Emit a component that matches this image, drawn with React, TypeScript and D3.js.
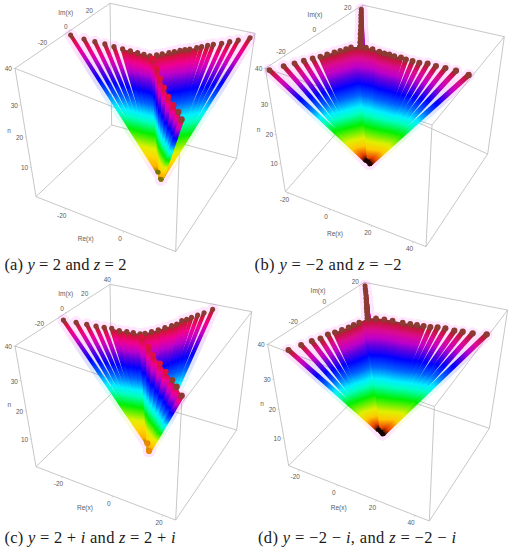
import React from 'react';
import * as d3 from 'd3';

// values at the top layer n = 40, in drawing order (far rays first)
const aRightRe = [14.3, 12.1, 10.5, 9.0, 7.3, 6.2, 5.1, 4.2, 2.9, 1.9, 0.9, -0.1, -1.1, -2.4, -3.45];
const aRightIm = [35.3, 30.9, 27.7, 24.6, 21.9, 19.9, 17.5, 15.6, 13.0, 11.4, 9.8, 7.5, 5.5, 3.0, 0.9];
const aLeftRe = [-28.5, -24.4, -21.2, -18.3, -15.5, -12.9, -10.6, -8.5, -6.6, -4.8];
const aLeftIm = [-3.85, -3.8, -3.3, -2.7, -2.65, -2.4, -2.1, -1.7, -1.5, -1.4];
const aThirdRe = [-3.6, -0.2, 3.0, 6.1, 9.4, 12.6, 15.4, 18.0];
const aThirdIm = [-2.5, -9.1, -15.8, -21.6, -27.6, -32.7, -36.6, -41.6];

const bSpikeRe = [-16, -15, -14, -12.7, -11.5, -10.05, -8.5, -7.1, -5.5, -4.1, -2.5];
const bSpikeIm = [21.3, 19.7, 17.9, 15.9, 14, 11.6, 9.1, 6.7, 4.2, 1.8, -0.75];
const bLeftRe = [-2.5, -5.3, -6.3, -7.6, -8.95, -10.6, -12.0, -13.9, -16.0, -18.1, -20.7, -23.95];
const bLeftIm = [-0.75, -2.6, -4.45, -6.4, -8.3, -10.7, -13.2, -15.5, -18.3, -21.4, -24.8, -29.5];
const bRightRe = [-2.5, -0.2, 2.5, 5.7, 8.0, 10.0, 12.3, 15.0, 17.4, 20.2, 23.1, 26.1, 29.8, 33.7, 38.2, 44];
const bRightIm = [-0.75, -0.3, 0, -0.4, -0.6, -0.3, -0.5, -0.1, -0.45, -0.3, -0.2, 0.8, 0.7, 1.1, 1.3, 0.9];

const cRightRe = [9.5, 8.1, 7, 6, 5.25, 4.3, 3.9, 3, 1.7, 0.55, -0.8, -2.15];
const cRightIm = [36.6, 31.8, 28.4, 25, 22.2, 19.9, 15.9, 13.3, 10.1, 6.6, 3.6, 0.7];
const cLeftRe = [-28.8, -24.6, -21.05, -17.95, -15.3, -12.9, -10.1, -7.7, -5.6, -3.3];
const cLeftIm = [-7.0, -6.0, -5.2, -4.5, -3.7, -2.8, -3.0, -2.15, -1.45, -1.0];
const cThirdRe = [-2.1, 2.8, 6.65, 11, 15.1, 19.4, 22.6, 26.7];
const cThirdIm = [-2.9, -9.8, -15.7, -21.15, -26.9, -32.35, -37, -43.4];

const dSpikeRe = [-18.55, -17.3, -16, -14.6, -13.3, -11.9, -10.5, -9.25, -7.85, -6.45, -5.05];
const dSpikeIm = [17.15, 15.4, 13.7, 11.75, 9.75, 7.8, 5.9, 3.9, 1.95, 0, -1.9];
const dLeftRe = [-5.05, -6.4, -7.5, -8.4, -9.8, -11.4, -13.2, -14.3, -16.4, -18.7, -21.3];
const dLeftIm = [-1.9, -6, -8.3, -10.6, -13.35, -16, -18.4, -22.1, -25.2, -29.4, -34.6];
const dRightRe = [-5.05, -2.05, 1.3, 4.8, 9.2, 12.4, 15.2, 18, 20.8, 23.5, 26.7, 30.8, 34.2, 38.4, 43.8];
const dRightIm = [-1.9, -0.5, 0.4, 1.0, 1.55, 2.1, 2.65, 3.2, 3.8, 4.85, 5.6, 5.75, 6.6, 7.35, 9.2];

const tipN = 40;
const apexN = 2;

// colour by n
const colorN = [2, 3.9, 6.9, 9.6, 14.2, 18, 20.2, 24, 27.8, 30.9, 33.5, 36.2, 38.5, 40];
const coldHex = ['#1a0000', '#e84000', '#ffc800', '#e0f000', '#00f000', '#00ffc0', '#00f0ff', '#0060ff', '#0000ff', '#6000e0', '#c000c8', '#dc0a90', '#c61440', '#7a3a30'];
const warmHex = ['#7a6a00', '#ffb000', '#ffd800', '#e0f000', '#00f000', '#00ffc0', '#00f0ff', '#0060ff', '#0000ff', '#6000e0', '#c000c8', '#f00090', '#d81040', '#7a3a30'];
const haloHex = ['#ff40ff', '#ff40ff', '#ffc800', '#e0f000', '#00f000', '#00ffc0', '#00f0ff', '#0060ff', '#0000ff', '#6000e0', '#c800d0', '#ff20e0', '#ff40ff', '#ff40ff'];

const nTicks = [40, 30, 20, 10];

type Pt = [number, number];

const panels = [
  {
    key: 'a',
    origin: [0, 0],
    ramp: 'warm',
    ball: { fill: '#7c7400', r: 2.5 },
    corners: { tl: [45, 205], tb: [330, 10], tr: [765, 100], tf: [540, 400], bl: [108, 590], bb: [335, 375], br: [710, 475], bf: [527, 755] },
    reDomain: [-30.2, 17.7],
    imDomain: [-47, 34.3],
    reTicks: [-20, 0],
    imTicks: [-20, 0, 20],
    labels: { im: [197, 38], n: [27, 393], re: [257, 716] },
    rows: [
      { re: aRightRe, im: aRightIm, apex: [-0.66, -3.6], fill: [7, 14], quiet: 0 },
      { re: aLeftRe, im: aLeftIm, apex: [-3.1, 1.2], fill: [5, 9], quiet: 0 },
      { re: aThirdRe, im: aThirdIm, apex: [-0.66, -3.6], fill: [0, 7], quiet: 6 },
    ],
    caption: { at: [4.5, 270], len: 122, parts: ['(a) ', 'y', ' = 2 and ', 'z', ' = 2'] },
  },
  {
    key: 'b',
    origin: [256, 0],
    ramp: 'cold',
    ball: { fill: '#200000', r: 2.4 },
    corners: { tl: [28, 205], tb: [320, 15], tr: [745, 110], tf: [528, 375], bl: [88, 575], bb: [330, 297], br: [695, 462], bf: [510, 740] },
    reDomain: [-21.5, 46],
    imDomain: [-31.8, 26.6],
    reTicks: [-20, 0, 20, 40],
    imTicks: [-20, 0, 20],
    labels: { im: [177, 44], n: [8, 388], re: [237, 700] },
    rows: [
      { re: bSpikeRe, im: bSpikeIm, apex: [2.5, -3.35], fill: [0, 0], quiet: 0 },
      { re: bLeftRe, im: bLeftIm, apex: [1.55, -3.05], fill: [0, 6], quiet: 0 },
      { re: bRightRe, im: bRightIm, apex: [3.9, -4.4], fill: [0, 7], quiet: 0 },
    ],
    caption: { at: [254.5, 270], len: 147, parts: ['(b) ', 'y', ' = \u22122 and ', 'z', ' = \u22122'] },
  },
  {
    key: 'c',
    origin: [0, 275],
    ramp: 'warm',
    ball: { fill: '#e88a00', r: 3.1 },
    corners: { tl: [45, 213], tb: [330, 28], tr: [755, 110], tf: [545, 385], bl: [108, 575], bb: [335, 355], br: [710, 465], bf: [527, 735] },
    reDomain: [-30.5, 25],
    imDomain: [-45, 38.8],
    reTicks: [-20, 0, 20],
    imTicks: [-20, 0, 20, 40],
    labels: { im: [197, 55], n: [28, 390], re: [255, 697] },
    rows: [
      { re: cRightRe, im: cRightIm, apex: [1.05, -4.65], fill: [4, 11], quiet: 0 },
      { re: cLeftRe, im: cLeftIm, apex: [-1.7, 1.45], fill: [5, 9], quiet: 0 },
      { re: cThirdRe, im: cThirdIm, apex: [1.05, -4.65], fill: [0, 7], quiet: 5 },
    ],
    caption: { at: [4.5, 543], len: 171, parts: ['(c) ', 'y', ' = 2 + ', 'i', ' and ', 'z', ' = 2 + ', 'i'] },
  },
  {
    key: 'd',
    origin: [256, 275],
    ramp: 'cold',
    ball: { fill: '#100000', r: 2.4 },
    corners: { tl: [35, 208], tb: [325, 22], tr: [755, 105], tf: [535, 395], bl: [98, 572], bb: [332, 335], br: [700, 460], bf: [520, 738] },
    reDomain: [-25.5, 47.4],
    imDomain: [-39, 23.2],
    reTicks: [-20, 0, 20, 40],
    imTicks: [-20, 0, 20],
    labels: { im: [186, 47], n: [18, 386], re: [248, 697] },
    rows: [
      { re: dSpikeRe, im: dSpikeIm, apex: [1.65, -2.6], fill: [0, 0], quiet: 0 },
      { re: dLeftRe, im: dLeftIm, apex: [-0.1, -1.6], fill: [0, 5], quiet: 0 },
      { re: dRightRe, im: dRightIm, apex: [3.0, -3.5], fill: [0, 7], quiet: 0 },
    ],
    caption: { at: [258, 543], len: 198, parts: ['(d) ', 'y', ' = \u22122 \u2212 ', 'i', ', and ', 'z', ' = \u22122 \u2212 ', 'i'] },
  },
];

// crop units are 3x the picture, corners and label spots were measured that way
const px = (v: number) => v / 3;
const mix = (a: Pt, b: Pt, t: number): Pt => [a[0] + (b[0] - a[0]) * t, a[1] + (b[1] - a[1]) * t];
const sub = (a: number[], b: number[]): Pt => [a[0] - b[0], a[1] - b[1]];
const avg = (...vs: number[][]): Pt => [d3.mean(vs, v => v[0]) as number, d3.mean(vs, v => v[1]) as number];

const axisColor = '#b9b9b9';
const textColor = '#5a5a5a';

function Ramp({ id, colors }: { id: string; colors: string[] }) {
  return (
    <linearGradient id={id}>
      {colorN.map((n, i) => (
        <stop key={n} offset={(n - apexN) / (tipN - apexN)} stopColor={colors[i]} />
      ))}
    </linearGradient>
  );
}

function Panel({ panel }: { panel: (typeof panels)[number] }) {
  const { corners: c, key } = panel;
  const edges = [
    [c.tl, c.tb], [c.tb, c.tr], [c.tr, c.tf], [c.tf, c.tl],
    [c.bl, c.bb], [c.bb, c.br], [c.br, c.bf], [c.bf, c.bl],
    [c.tl, c.bl], [c.tb, c.bb], [c.tr, c.br], [c.tf, c.bf],
  ];

  const center = avg(c.tl, c.tb, c.tr, c.tf);
  const eRe = avg(sub(c.tf, c.tl), sub(c.tr, c.tb));
  const eIm = avg(sub(c.tb, c.tl), sub(c.tr, c.tf));
  const eN = avg(sub(c.bl, c.tl), sub(c.bb, c.tb), sub(c.bf, c.tf), sub(c.br, c.tr));

  const reScale = d3.scaleLinear().domain(panel.reDomain).range([-0.5, 0.5]);
  const imScale = d3.scaleLinear().domain(panel.imDomain).range([-0.5, 0.5]);
  const nScale = d3.scaleLinear().domain([tipN, 0]).range([0, 1]);

  const project = (re: number, im: number, n: number): Pt => {
    const u = reScale(re), v = imScale(im), w = nScale(n);
    return [
      px(center[0] + u * eRe[0] + v * eIm[0] + w * eN[0]),
      px(center[1] + u * eRe[1] + v * eIm[1] + w * eN[1]),
    ];
  };

  const rows = panel.rows.map((row, r) => {
    const apex = project(row.apex[0], row.apex[1], apexN);
    return {
      fill: row.fill,
      quiet: row.quiet,
      apex,
      rays: row.re.map((re, i) => ({
        id: `${key}-${r}-${i}`,
        depth: re - row.im[i],
        tip: project(re, row.im[i], tipN),
        apex,
      })),
    };
  });
  const rays = rows.flatMap(r => r.rays);
  const width = d3.scaleLinear()
    .domain(d3.extent(rays, d => d.depth) as [number, number])
    .range([4, 5.3]);

  // axis ticks sit on the box edges
  const reAt = d3.scaleLinear().domain(panel.reDomain).range([0, 1]);
  const imAt = d3.scaleLinear().domain(panel.imDomain).range([0, 1]);
  const nAt = d3.scalePow().exponent(0.9).domain([0, tipN]).range([0, 1]);
  const ticks = [
    ...panel.reTicks.map(t => ({ t, p: mix(c.bl as Pt, c.bf as Pt, reAt(t)), off: [-12, 22] })),
    ...panel.imTicks.map(t => ({ t, p: mix(c.tl as Pt, c.tb as Pt, imAt(t)), off: [-12, -12] })),
    ...nTicks.map(t => ({ t, p: mix(c.tl as Pt, c.bl as Pt, nAt(tipN - t)), off: [-20, 2] })),
  ];

  return (
    <g transform={`translate(${panel.origin[0]},${panel.origin[1]})`}>
      <defs>
        {rays.map(d => (
          <React.Fragment key={d.id}>
            <linearGradient id={`ray-${d.id}`} href={`#${panel.ramp}`} gradientUnits="userSpaceOnUse"
              x1={d.apex[0]} y1={d.apex[1]} x2={d.tip[0]} y2={d.tip[1]} />
            <linearGradient id={`halo-${d.id}`} href="#halo" gradientUnits="userSpaceOnUse"
              x1={d.apex[0]} y1={d.apex[1]} x2={d.tip[0]} y2={d.tip[1]} />
          </React.Fragment>
        ))}
      </defs>

      {edges.map((e, i) => (
        <line key={i} x1={px(e[0][0])} y1={px(e[0][1])} x2={px(e[1][0])} y2={px(e[1][1])}
          stroke={axisColor} strokeWidth={0.8} />
      ))}

      {ticks.map((d, i) => (
        <g key={i}>
          <line x1={px(d.p[0])} y1={px(d.p[1])} x2={px(d.p[0] + d.off[0] * 0.22)} y2={px(d.p[1] + d.off[1] * 0.22)}
            stroke={axisColor} strokeWidth={0.6} />
          <text x={px(d.p[0] + d.off[0])} y={px(d.p[1] + d.off[1])} dy="0.35em" textAnchor="middle"
            fontFamily="Liberation Sans, sans-serif" fontSize={6.5} fill={textColor}>
            {d3.format('d')(d.t).replace('\u2212', '-')}
          </text>
        </g>
      ))}

      {(['im', 'n', 're'] as const).map(k => (
        <text key={k} x={px(panel.labels[k][0])} y={px(panel.labels[k][1])} dy="0.35em" textAnchor="middle"
          fontFamily="Liberation Sans, sans-serif" fontSize={6.5} fill={textColor}>
          {k === 'im' ? 'Im(x)' : k === 're' ? 'Re(x)' : 'n'}
        </text>
      ))}

      {/* soft colour bleed round the fan */}
      <g opacity={0.13}>
        {rays.map(d => (
          <line key={d.id} x1={d.apex[0]} y1={d.apex[1]} x2={d.tip[0]} y2={d.tip[1]}
            stroke={`url(#halo-${d.id})`} strokeWidth={12} strokeLinecap="round" />
        ))}
      </g>

      {rows.map((row, r) => (
        <g key={r}>
          {/* the dense middle of the row, no gaps show there */}
          {d3.range(row.fill[0], row.fill[1]).map(i => (
            <polygon key={i} fill={`url(#ray-${row.rays[i].id})`}
              points={[row.apex, row.rays[i].tip, row.rays[i + 1].tip].map(p => p.join(',')).join(' ')} />
          ))}
          {row.rays.map((d, i) => (
            <g key={d.id}>
              <line x1={d.apex[0]} y1={d.apex[1]} x2={d.tip[0]} y2={d.tip[1]}
                stroke={`url(#ray-${d.id})`} strokeWidth={width(d.depth)} />
              <circle cx={d.tip[0]} cy={d.tip[1]} r={width(d.depth) / 2 + 0.5}
                fill={i < row.quiet ? '#e0103c' : '#8b3b32'} />
            </g>
          ))}
        </g>
      ))}

      {/* apex balls */}
      {Array.from(new Set(rows.map(r => r.apex.join(',')))).map(s => {
        const [x, y] = s.split(',').map(Number);
        return <circle key={s} cx={x} cy={y} r={panel.ball.r} fill={panel.ball.fill} />;
      })}
    </g>
  );
}

function Caption({ caption }: { caption: (typeof panels)[number]['caption'] }) {
  return (
    <text x={caption.at[0]} y={caption.at[1]} textLength={caption.len} lengthAdjust="spacing"
      fontFamily="Liberation Serif, serif" fontSize={16.5} fill="#1a1a1a" xmlSpace="preserve">
      {caption.parts.map((p, i) => (
        <tspan key={i} fontStyle={p === 'y' || p === 'z' || p === 'i' ? 'italic' : 'normal'}>{p}</tspan>
      ))}
    </text>
  );
}

export default function App() {
  return (
    <svg width={513} height={550} style={{ position: 'absolute', left: 0, top: 0, background: '#fff' }}>
      <defs>
        <Ramp id="cold" colors={coldHex} />
        <Ramp id="warm" colors={warmHex} />
        <Ramp id="halo" colors={haloHex} />
      </defs>
      {panels.map(p => <Panel key={p.key} panel={p} />)}
      {panels.map(p => <Caption key={p.key} caption={p.caption} />)}
    </svg>
  );
}
